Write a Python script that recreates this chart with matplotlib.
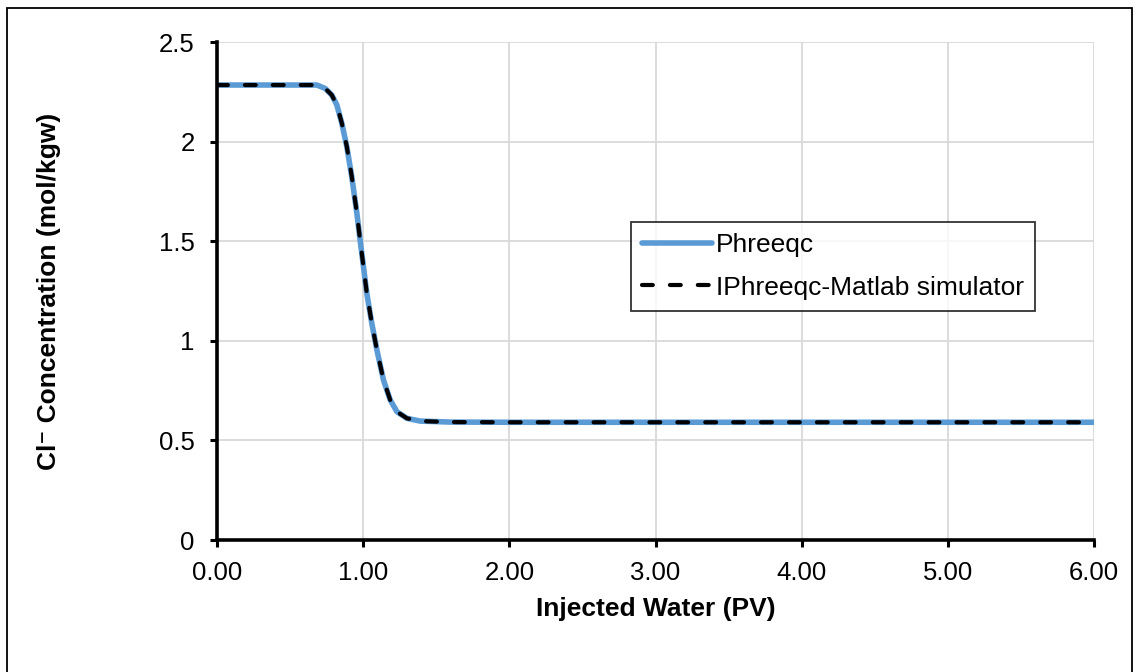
import matplotlib
matplotlib.use("Agg")
import matplotlib.pyplot as plt
from matplotlib.patches import Rectangle

plt.rcParams["font.family"] = ["Liberation Sans", "DejaVu Sans"]

# Cl- breakthrough curve (pore volumes vs mol/kgw)
pv = [0.0, 0.2, 0.4, 0.6, 0.683, 0.740, 0.785, 0.820, 0.854, 0.888, 0.922,
      0.957, 0.979, 1.002, 1.025, 1.059, 1.094, 1.139, 1.185, 1.231, 1.299,
      1.390, 1.596, 2.0, 3.0, 4.0, 5.0, 6.0]
cl_phreeqc = [2.284, 2.284, 2.284, 2.284, 2.284, 2.267, 2.234, 2.184, 2.092, 1.975, 1.824,
              1.640, 1.506, 1.372, 1.238, 1.088, 0.954, 0.803, 0.703, 0.644, 0.611,
              0.597, 0.592, 0.591, 0.591, 0.591, 0.591, 0.591]
cl_iphreeqc = [2.284, 2.284, 2.284, 2.284, 2.284, 2.267, 2.234, 2.184, 2.092, 1.975, 1.824,
               1.640, 1.506, 1.372, 1.238, 1.088, 0.954, 0.803, 0.703, 0.644, 0.611,
               0.597, 0.592, 0.591, 0.591, 0.591, 0.591, 0.591]

fig = plt.figure(figsize=(11.36, 6.72), dpi=100)
ax = fig.add_axes([217 / 1136, 1 - 540 / 672, (1094 - 217) / 1136, (540 - 42) / 672])

ax.plot(pv, cl_phreeqc, color="#5B9BD5", lw=4.0, label="Phreeqc",
        solid_capstyle="round", solid_joinstyle="round")
ax.plot(pv, cl_iphreeqc, color="black", lw=3.0, ls=(0, (2.6, 4.1)),
        dash_capstyle="round", dash_joinstyle="round",
        label="IPhreeqc-Matlab simulator")

ax.set_xlim(0, 6)
ax.set_ylim(0, 2.5)
ax.set_xticks([0, 1, 2, 3, 4, 5, 6])
ax.set_xticklabels([f"{v:.2f}" for v in range(7)])
ax.set_yticks([0, 0.5, 1, 1.5, 2, 2.5])
ax.set_yticklabels(["0", "0.5", "1", "1.5", "2", "2.5"])
ax.grid(True, color="#d9d9d9", lw=1.3)
ax.set_axisbelow(True)

for side in ["top", "right"]:
    ax.spines[side].set_visible(False)
for side in ["left", "bottom"]:
    ax.spines[side].set_linewidth(2.6)
ax.tick_params(axis="both", direction="out", length=5, width=2.2, labelsize=18.5)
ax.tick_params(axis="x", pad=10)
ax.tick_params(axis="y", pad=11)

ax.set_xlabel("Injected Water (PV)", fontsize=19, fontweight="bold", va="center")
ax.xaxis.set_label_coords(0.5, (540 - 609) / 498)
ax.set_ylabel("Cl\u207b Concentration (mol/kgw)", fontsize=19,
              fontweight="bold", va="center")
ax.yaxis.set_label_coords((49 - 217) / 877, 0.5)

leg = ax.legend(loc="upper left", bbox_to_anchor=((631 - 217) / 877, (540 - 222) / 498),
                borderaxespad=0, fontsize=19, frameon=True, fancybox=False,
                handlelength=2.65, borderpad=0.42, labelspacing=0.7,
                handletextpad=0.15)
leg.get_frame().set_edgecolor("black")
leg.get_frame().set_linewidth(1.3)

fig.patches.append(Rectangle((7 / 1136, -0.05), 1125 / 1136, 1.05 - 8 / 672,
                             transform=fig.transFigure, fill=False,
                             edgecolor="black", lw=1.3))

fig.savefig("out.png", dpi=100)
